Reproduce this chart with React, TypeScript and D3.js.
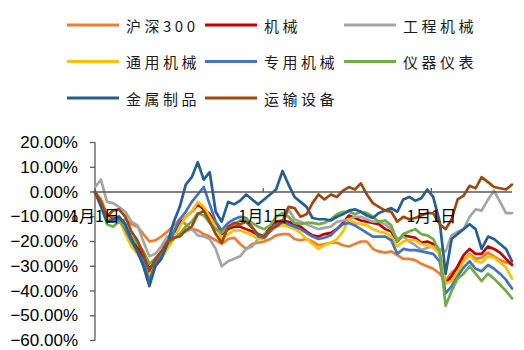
import React from "react";
import * as d3 from "d3";

const seriesNames = ["沪深300", "机械", "工程机械", "通用机械", "专用机械", "仪器仪表", "金属制品", "运输设备"];
const seriesColors = ["#ED7D31", "#C00000", "#A5A5A5", "#FFC000", "#4472C4", "#70AD47", "#255E91", "#9E480E"];

const hs300 = [0, -3, -9, -10, -12, -11, -13, -14, -17, -20, -19.5, -18, -16, -13.5, -11, -13, -15, -15.5, -17, -18, -19.5, -21, -19, -18.5, -21, -23, -21, -20.5, -20, -19, -17.5, -17, -17, -19, -19.5, -19, -20, -21.5, -21, -20.5, -20.5, -21.5, -22, -21, -20, -20, -23, -24, -24.5, -24, -25.5, -27, -27, -27.5, -29, -30, -31, -33, -36, -32.5, -31, -27.5, -25, -27, -26.5, -24.5, -26, -27.5, -28.5, -29];
const jixie = [0, -4, -10, -11, -10, -15, -19, -22, -27, -31, -28, -25, -21, -17, -13, -10, -8, -5, -7, -9, -13, -17, -15, -14, -14, -15, -16, -17.5, -17.5, -14.5, -12, -11.5, -12, -13, -14, -16, -17.5, -18, -17, -16.5, -15, -12.5, -9.5, -10.5, -11.5, -12, -12.5, -13, -15, -16, -20, -17.5, -18, -18.5, -20.5, -20, -21, -25, -37, -34, -30, -25.5, -23, -25, -25, -22, -23, -24.5, -27, -29.5];
const gongcheng = [2, 5, -4, -4.5, -6, -8, -12, -13.5, -20, -26, -25, -22, -18, -17, -17, -16, -15, -17.5, -18, -19, -23, -30, -28, -27, -26, -23, -22, -19, -17, -16, -14, -13, -7, -11, -12, -13, -14, -15, -14.5, -14, -12, -11.5, -11, -10, -10, -11, -12, -12, -13, -15, -19, -18, -20, -21.5, -23.5, -22.5, -22, -23, -24, -17.5, -16, -15, -10, -7, -7.5, -3, 0.5, -4, -8.5, -8.5];
const tongyong = [0, -4, -10, -12, -11, -17, -22, -25, -29, -34, -30, -27, -23, -19, -14, -10, -8, -4, -6, -10, -14, -19, -17, -15.5, -15.5, -16.5, -17.5, -19, -19, -15.5, -13, -13.5, -14, -15, -16.5, -19, -21, -23, -21.5, -20.5, -19, -16, -11, -12.5, -13, -13.5, -15, -16, -16.5, -18, -22, -20, -19.5, -19.5, -21, -21.5, -22.5, -25, -37, -36, -32.5, -28, -25.5, -28, -28.5, -26, -26.5, -28.5, -30.5, -35];
const zhuanyong = [0, -5, -12, -12, -11, -15, -20, -24, -28, -36, -29, -26, -21, -16, -11, -8, -4, -1, 2, -5, -12, -15.5, -12.5, -11, -10, -10.5, -14, -18, -18.5, -16, -13, -12, -13, -14, -15, -16.5, -18, -19, -18.5, -17.5, -15, -13, -12.5, -13.5, -15, -16.5, -18, -18, -18, -19.5, -25, -23, -23.5, -23.5, -24, -24.5, -25, -28, -41, -38, -34, -30.5, -28, -31, -32, -29.5, -31, -33, -35.5, -39];
const yiqi = [0, -5, -13, -14, -12, -14, -18, -21, -24, -29, -27, -24.5, -21, -19, -17, -14, -12, -8.5, -9.5, -12.5, -15, -16.5, -14, -13, -11.5, -11, -12.5, -14, -15, -13.5, -10, -8.5, -10, -12.5, -13, -12.5, -12.5, -13, -12.5, -11, -9, -8, -8, -9, -8, -8.5, -10, -12, -11.5, -13.5, -20, -17, -16, -15, -17, -17.5, -19, -24, -46, -40, -35, -33, -30, -33, -36, -33, -35, -37.5, -40, -43];
const jinshu = [0, -6, -12, -11, -10, -13, -19, -24, -30, -38, -30, -27, -21, -12, -6, 3, 6, 12, 5, 8, -8, -12, -4, -5, -3.5, -1, -3, -5, -3, -1, 1, 8.5, 3, -2, -4, -6, -10.5, -11, -11, -11.5, -10, -9, -7.5, -7, -8, -9.5, -10.5, -8.5, -7.5, -6.5, -8, -3, -2, -3.5, -2.5, 1, -2, -12, -33, -19, -17, -15, -13, -15, -23, -18, -19, -21, -23, -28];
const yunshu = [0, -4, -10, -7.5, -7, -10, -16, -19.5, -25, -32, -27, -24, -20, -18.5, -18, -15.5, -14, -9, -7.5, -12, -17, -20.5, -14, -12.5, -13, -12, -14.5, -17, -18, -15, -14, -12, -6, -6.5, -10, -9, -4.5, -1, -3, -1, -2, 0.5, 2, 1, 3.5, -1, -4.5, -6, -7.5, -8, -12, -10, -11, -10.5, -9.5, -8.5, -8.5, -13, -15, -11, -3, -1.5, 2.5, 1.5, 6, 4, 2, 1.5, 1, 3];

const allSeries = [hs300, jixie, gongcheng, tongyong, zhuanyong, yiqi, jinshu, yunshu];

const yTicks = [20, 10, 0, -10, -20, -30, -40, -50, -60];
const xTickLabel = "1月1日";
const startDate = new Date(2018, 0, 1);
const endDate = new Date(2020, 5, 24);
const xTickDates = [new Date(2018, 0, 1), new Date(2019, 0, 1), new Date(2020, 0, 1)];

export default function App() {
  const W = 524, H = 350;
  const totalDays = d3.timeDay.count(startDate, endDate);
  const n = hs300.length;
  const dates = hs300.map((_, i) => d3.timeDay.offset(startDate, Math.round((i * totalDays) / (n - 1))));

  const x = d3.scaleTime().domain([startDate, endDate]).range([95, 512]);
  const y = d3.scaleLinear().domain([-60, 20]).range([340.5, 142.5]);
  const fmt = d3.format(".2f");

  const line = d3
    .line<number>()
    .x((_, i) => x(dates[i]))
    .y((d) => y(d));

  const legendCols = [67, 205, 344];
  const legendRows = [25, 61.5, 98];

  return (
    <svg width={W} height={H} style={{ position: "absolute", left: 0, top: 0, background: "#fff" }}>
      {seriesNames.map((name, i) => {
        const cx = legendCols[i % 3];
        const cy = legendRows[Math.floor(i / 3)];
        return (
          <g key={name}>
            <line x1={cx} x2={cx + 52} y1={cy} y2={cy} stroke={seriesColors[i]} strokeWidth={3} />
            <text
              x={cx + 59}
              y={cy}
              dominantBaseline="central"
              fontFamily="'Noto Sans CJK SC', sans-serif"
              fontSize={15}
              letterSpacing={3.5}
              fill="#1a1a1a"
            >
              {name}
            </text>
          </g>
        );
      })}

      <line x1={95} x2={95} y1={y(20)} y2={y(-60)} stroke="#595959" strokeWidth={1.3} />
      {yTicks.map((t) => (
        <g key={t}>
          <line x1={90} x2={95} y1={y(t)} y2={y(t)} stroke="#595959" strokeWidth={1.3} />
          <text
            x={78}
            y={y(t)}
            textAnchor="end"
            dominantBaseline="central"
            fontFamily="'Liberation Sans', Arial, sans-serif"
            fontSize={17}
            fill="#000"
          >
            {fmt(t) + "%"}
          </text>
        </g>
      ))}

      {allSeries.map((s, i) => (
        <path
          key={seriesNames[i]}
          d={line(s) || ""}
          fill="none"
          stroke={seriesColors[i]}
          strokeWidth={2.7}
          strokeLinejoin="round"
          strokeLinecap="round"
        />
      ))}

      <line x1={95} x2={512} y1={y(0)} y2={y(0)} stroke="#595959" strokeWidth={1.5} />
      {xTickDates.map((d, i) => (
        <g key={i}>
          <line x1={x(d)} x2={x(d)} y1={y(0) - 4} y2={y(0)} stroke="#595959" strokeWidth={1.3} />
          <text
            x={x(d)}
            y={y(0) + 23}
            textAnchor="middle"
            dominantBaseline="central"
            fontFamily="'Noto Sans CJK SC', sans-serif"
            fontSize={16}
            fill="#000"
          >
            {xTickLabel}
          </text>
        </g>
      ))}
    </svg>
  );
}
